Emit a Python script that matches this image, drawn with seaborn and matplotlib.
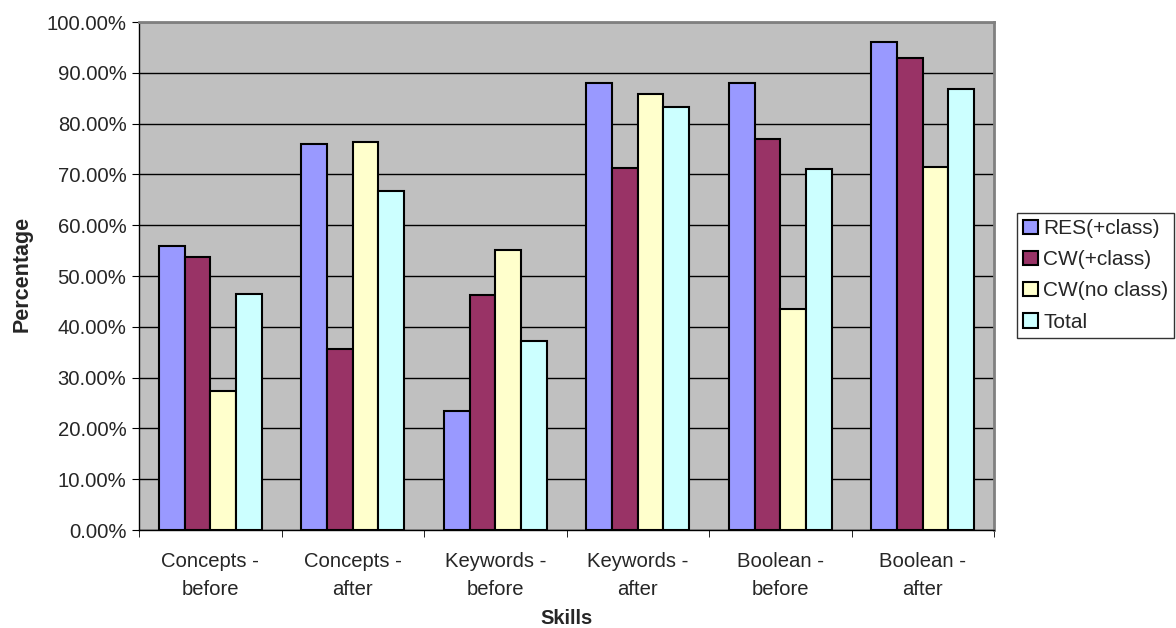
"""
skills bar chart: percentage per group before/after
"""
import matplotlib as mpl
mpl.use('Agg')
from matplotlib import pyplot as plt
from matplotlib.ticker import PercentFormatter, FixedLocator
import numpy as np
import pandas as pd
import seaborn as sns

skills = ['Concepts -\nbefore', 'Concepts -\nafter', 'Keywords -\nbefore',
          'Keywords -\nafter', 'Boolean -\nbefore', 'Boolean -\nafter']
series = ['RES(+class)', 'CW(+class)', 'CW(no class)', 'Total']

res_class = [56.0, 76.0, 23.4, 88.0, 88.0, 96.0]
cw_class = [53.8, 35.7, 46.2, 71.3, 76.9, 92.9]
cw_noclass = [27.3, 76.3, 55.2, 85.8, 43.5, 71.4]
total = [46.5, 66.7, 37.2, 83.3, 71.0, 86.9]

colors = ['#9999FF', '#993366', '#FFFFCC', '#CCFFFF']

sns.set_style('white')
plt.rcParams['font.family'] = ['Liberation Sans', 'DejaVu Sans']
plt.rcParams['font.size'] = 14.6


def main():
    df = pd.DataFrame({
        'Skills': skills * 4,
        'Series': np.repeat(series, len(skills)),
        'Percentage': res_class + cw_class + cw_noclass + total,
    })

    fig = plt.figure(figsize=(11.76, 6.28), dpi=100)
    ax = fig.add_axes([139 / 1176, 1 - 530 / 628, (994 - 139) / 1176, (530 - 22) / 628])
    ax.set_facecolor('#C0C0C0')

    sns.barplot(data=df, x='Skills', y='Percentage', hue='Series', order=skills,
                hue_order=series, palette=colors, width=0.72, ax=ax,
                edgecolor='black', linewidth=1.5, saturation=1, errorbar=None)

    ax.set_ylim(0, 100)
    ax.set_xlim(-0.5, len(skills) - 0.5)
    ax.yaxis.set_major_locator(FixedLocator(np.arange(0, 101, 10)))
    ax.yaxis.set_major_formatter(PercentFormatter(xmax=100, decimals=2))
    ax.grid(axis='y', color='black', linewidth=1)
    ax.set_axisbelow(True)

    # excel-style ticks between categories
    ax.set_xticks(range(len(skills)))
    ax.set_xticklabels(skills, linespacing=1.6)
    ax.tick_params(axis='x', which='major', length=0, pad=16)
    ax.set_xticks(np.arange(-0.5, len(skills), 1), minor=True)
    ax.tick_params(axis='x', which='minor', length=5, color='black', direction='out')
    ax.tick_params(axis='y', length=5, color='black', direction='out', pad=4)
    ax.xaxis.set_tick_params(bottom=True, which='both')
    ax.yaxis.set_tick_params(left=True)

    for side in ['left', 'bottom']:
        ax.spines[side].set_color('black')
        ax.spines[side].set_linewidth(1)
    for side in ['top', 'right']:
        ax.spines[side].set_color('#808080')
        ax.spines[side].set_linewidth(2)

    ax.set_xlabel('Skills', fontweight='bold', fontsize=14.5)
    ax.set_ylabel('Percentage', fontweight='bold', fontsize=15.5)
    ax.xaxis.set_label_coords(0.5, -0.156)
    ax.yaxis.set_label_coords(-0.125, 0.505)

    ax.legend_.remove()
    handles, labels = ax.get_legend_handles_labels()
    leg = fig.legend(handles, labels, loc='upper left',
                     bbox_to_anchor=(1017 / 1176, 1 - 213 / 628),
                     bbox_transform=fig.transFigure, borderaxespad=0,
                     frameon=True, fancybox=False, edgecolor='black',
                     handlelength=0.7, handleheight=0.7, handletextpad=0.25,
                     labelspacing=0.58, fontsize=15, borderpad=0.3)
    leg.get_frame().set_linewidth(1)

    fig.savefig('out.png', dpi=100)


if __name__ == "__main__":
    main()
